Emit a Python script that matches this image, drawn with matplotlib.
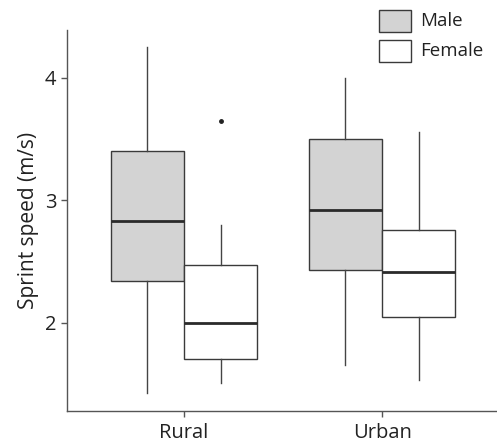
import matplotlib
matplotlib.use("Agg")
import matplotlib.pyplot as plt
from matplotlib.patches import Rectangle

plt.rcParams['font.family'] = ['Open Sans', 'DejaVu Sans']

categories = ["Rural", "Urban"]
groups = ["Male", "Female"]
# per category: [Male, Female]
whislo = {"Male": [1.43, 1.66], "Female": [1.51, 1.535]}
q1 = {"Male": [2.34, 2.43], "Female": [1.71, 2.05]}
med = {"Male": [2.83, 2.92], "Female": [2.00, 2.415]}
q3 = {"Male": [3.40, 3.50], "Female": [2.47, 2.755]}
whishi = {"Male": [4.25, 4.00], "Female": [2.80, 3.56]}
fliers = {"Male": [[], []], "Female": [[3.645], []]}

fills = {"Male": "#d3d3d3", "Female": "#ffffff"}
edge = "#3a3a3a"

W, H = 497, 446
fig = plt.figure(figsize=(W/100, H/100), dpi=100)
ax = fig.add_axes([67/W, 35/H, 430/W, 381/H])

width = 0.37
offsets = {"Male": -width/2, "Female": width/2}
for g in groups:
    stats = []
    for i in range(len(categories)):
        stats.append(dict(whislo=whislo[g][i], q1=q1[g][i], med=med[g][i],
                          q3=q3[g][i], whishi=whishi[g][i], fliers=fliers[g][i]))
    pos = [i + 1 + offsets[g] for i in range(len(categories))]
    ax.bxp(stats, positions=pos, widths=width, patch_artist=True, showcaps=False,
           boxprops=dict(facecolor=fills[g], edgecolor=edge, linewidth=1.0),
           whiskerprops=dict(color="#444444", linewidth=1.0),
           medianprops=dict(color="#2a2a2a", linewidth=2.0),
           flierprops=dict(marker='o', markersize=2.5, markerfacecolor="#222222",
                           markeredgecolor="#222222"))

ax.set_xlim(0.409, 2.58)
ax.set_ylim(1.282, 4.39)
ax.set_xticks([1, 2])
ax.set_xticklabels(categories)
ax.set_yticks([2, 3, 4])
ax.set_yticklabels(["2", "3", "4"])
for s in ["top", "right"]:
    ax.spines[s].set_visible(False)
for s in ["left", "bottom"]:
    ax.spines[s].set_color("#555555")
    ax.spines[s].set_linewidth(1.0)
ax.tick_params(axis='both', colors="#555555", labelcolor="#222222", labelsize=14.5, length=4, width=1.0)
ax.tick_params(axis='x', pad=5)
ax.set_ylabel("Sprint speed (m/s)", fontsize=15, color="#222222", labelpad=4)

# manual legend (figure pixel layout)
for k, g in enumerate(groups):
    top = 10 + 30 * k
    fig.add_artist(Rectangle((379 / W, 1 - (top + 22) / H), 32 / W, 22 / H,
                             transform=fig.transFigure, facecolor=fills[g],
                             edgecolor=edge, linewidth=1.0))
    fig.text(420 / W, 1 - (top + 11) / H, g, fontsize=13.5, color="#222222",
             ha='left', va='center')

fig.savefig("out.png", dpi=100)
